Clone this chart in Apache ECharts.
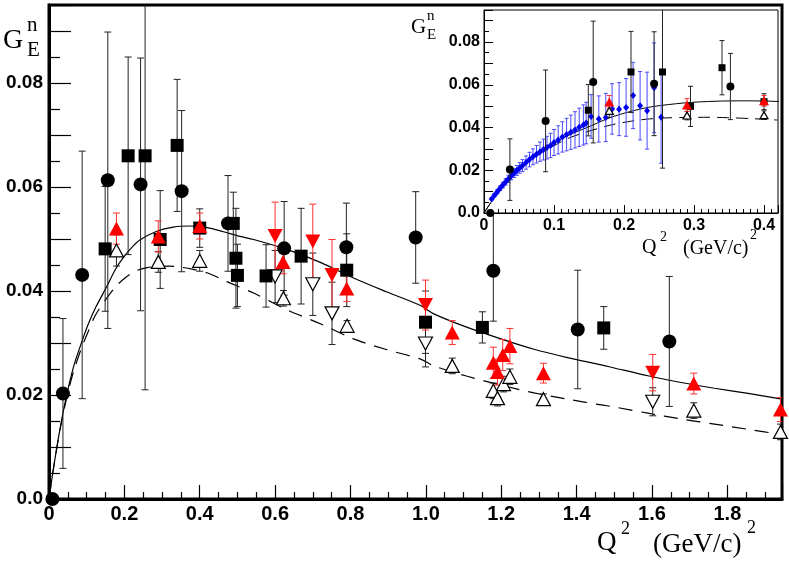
<!DOCTYPE html>
<html><head><meta charset="utf-8">
<script src="https://cdn.jsdelivr.net/npm/echarts@6/dist/echarts.min.js"></script>
<style>html,body{margin:0;padding:0;background:#fff}#c{width:789px;height:569px}</style>
</head><body><div id="c"></div>
<script>
// ---- data ----
// black filled circles
const circQ2  = [0.009, 0.037, 0.088, 0.156, 0.243, 0.352, 0.475, 0.624, 0.789, 0.973, 1.179, 1.403, 1.646];
const circGE  = [0.0,   0.0203,0.0431,0.0613,0.0605,0.0592,0.0530,0.0482,0.0484,0.0503,0.0439,0.0326,0.0303];
const circLo  = [0,     0.0144,0.0238,0.0285,0.0243,0.0155,0.0092,0.0090,0.0085,0.0088,0.0097,0.0114,0.0125];
const circHi  = [0,     0.0144,0.0238,0.0285,0.0243,0.0155,0.0092,0.0090,0.0085,0.0088,0.0120,0.0114,0.0125];
// black filled squares
const sqQ2  = [0.149, 0.210, 0.255, 0.295, 0.340, 0.400, 0.489, 0.496, 0.500, 0.576, 0.669, 0.790, 0.999, 1.150, 1.472];
const sqGE  = [0.0481,0.0660,0.0660,0.0499,0.0680,0.0521,0.0530,0.0463,0.0430,0.0429,0.0467,0.0440,0.0340,0.0330,0.0329];
const sqErr = [0.0120,0.0190,0.0450,0.0094,0.0127,0.0037,0.0060,0.0096,0.0060,0.0060,0.0092,0.0070,0.0060,0.0030,0.0041];
// red filled up-triangles
const rUpQ2  = [0.179, 0.290, 0.400, 0.621, 0.790, 1.070, 1.179, 1.190, 1.204, 1.223, 1.312, 1.711, 1.941];
const rUpGE  = [0.0520,0.0505,0.0525,0.0456,0.0405,0.0320,0.0262,0.0244,0.0277,0.0294,0.0242,0.0222,0.0172];
const rUpErr = [0.0030,0.0030,0.0025,0.0023,0.0025,0.0023,0.0030,0.0025,0.0030,0.0034,0.0019,0.0020,0.0023];
// red filled down-triangles
const rDnQ2  = [0.600, 0.700, 0.751, 0.999, 1.602];
const rDnGE  = [0.0506,0.0495,0.0431,0.0373,0.0243];
const rDnErr = [0.0065,0.0072,0.0068,0.0048,0.0035];
// open up-triangles
const oUpQ2  = [0.179, 0.290, 0.400, 0.622, 0.791, 1.070, 1.179, 1.190, 1.206, 1.223, 1.312, 1.711, 1.941];
const oUpGE  = [0.0478,0.0456,0.0458,0.0386,0.0333,0.0256,0.0208,0.0194,0.0221,0.0235,0.0192,0.0170,0.0129];
const oUpErr = [0.0030,0.0020,0.0020,0.0015,0.0010,0.0015,0.0015,0.0015,0.0015,0.0015,0.0010,0.0015,0.0015];
// open down-triangles
const oDnQ2  = [0.600, 0.700, 0.751, 0.999, 1.602];
const oDnGE  = [0.0428,0.0413,0.0357,0.0299,0.0187];
const oDnErr = [0.0050,0.0060,0.0060,0.0045,0.0027];
// blue points (inset only)
const blueQ2 = [0.011,0.015,0.019,0.023,0.027,0.031,0.035,0.039,0.043,0.047,0.051,0.055,0.060,0.065,0.070,0.075,0.080,0.085,0.090,0.095,0.100,0.106,0.112,0.118,0.124,0.130,0.136,0.142,0.146,
                0.153,0.164,0.174,0.183,0.193,0.203,0.213,0.223,0.233,0.243,0.253];
const blueGE = [0.0066,0.0083,0.0100,0.0116,0.0131,0.0146,0.0160,0.0174,0.0187,0.0199,0.0211,0.0222,0.0236,0.0250,0.0263,0.0275,0.0287,0.0297,0.0306,0.0316,0.0330,0.0342,0.0356,0.0367,0.0378,0.0389,0.0401,0.0412,0.0421,
                0.0452,0.0440,0.0447,0.0487,0.0486,0.0494,0.0550,0.0502,0.0479,0.0586,0.0448];
const blueErr= [0.0006,0.0008,0.0010,0.0011,0.0013,0.0015,0.0017,0.0019,0.0021,0.0023,0.0025,0.0028,0.0031,0.0034,0.0037,0.0041,0.0045,0.0049,0.0053,0.0057,0.0061,0.0066,0.0071,0.0076,0.0080,0.0085,0.0090,0.0094,0.0097,
                0.0102,0.0108,0.0113,0.0118,0.0124,0.0135,0.0155,0.0160,0.0180,0.0210,0.0215];
// curves
const solidQ2 = [0,0.01,0.02,0.03,0.04,0.05,0.06,0.07,0.086,0.104,0.125,0.153,0.175,0.197,0.22,0.241,0.286,0.33,0.374,0.42,0.463,0.507,0.543,0.631,0.72,0.808,0.897,0.986,1.021,1.11,1.199,1.287,1.376,1.465,1.5,1.589,1.677,1.766,1.855,1.945];
const solidGE = [0,0.0050,0.0096,0.0138,0.0176,0.0210,0.0240,0.0266,0.0300,0.0336,0.0370,0.0408,0.0440,0.0464,0.0484,0.0498,0.0515,0.0523,0.0525,0.0522,0.0514,0.0505,0.0499,0.0480,0.0455,0.0425,0.0398,0.0372,0.0356,0.0330,0.0308,0.0288,0.0272,0.0258,0.0252,0.0237,0.0224,0.0213,0.0203,0.0192];
const dashQ2 = [0,0.01,0.02,0.03,0.04,0.05,0.06,0.07,0.086,0.104,0.122,0.15,0.179,0.205,0.232,0.26,0.286,0.32,0.348,0.38,0.419,0.472,0.543,0.631,0.72,0.808,0.897,0.986,1.021,1.11,1.199,1.287,1.376,1.465,1.5,1.589,1.677,1.766,1.855,1.945];
const dashGE = [0,0.0050,0.0095,0.0136,0.0172,0.0204,0.0232,0.0256,0.0290,0.0322,0.0352,0.0383,0.0410,0.0427,0.0439,0.0445,0.0447,0.0448,0.0446,0.0442,0.0435,0.0418,0.0396,0.0364,0.0337,0.0308,0.0287,0.0269,0.0256,0.0236,0.0219,0.0204,0.0192,0.0181,0.0177,0.0165,0.0154,0.0144,0.0134,0.0124];

// ---- helpers ----
const INSET_MAX = 0.42;
function pts(q, g, lo, hi, maxQ) {
  const out = [];
  for (let i = 0; i < q.length; i++) if (q[i] <= maxQ) out.push([q[i], g[i], lo[i], hi[i]]);
  return out;
}
function xy(q, g, maxQ) { const o=[]; for (let i=0;i<q.length;i++) if (q[i] <= maxQ + 0.05) o.push([q[i], g[i]]); return o; }
function errSeries(data, color, cap, ax, lw, z) {
  return {
    type: 'custom', xAxisIndex: ax, yAxisIndex: ax, data: data, z: z, clip: true, silent: true,
    encode: { x: 0, y: 1 },
    renderItem: function (params, api) {
      const x = api.value(0), y = api.value(1), lo = api.value(2), hi = api.value(3);
      if (!lo && !hi) return null;
      const t = api.coord([x, y + hi]), b = api.coord([x, y - lo]);
      const st = { stroke: color, lineWidth: lw };
      return { type: 'group', children: [
        { type: 'line', shape: { x1: t[0], y1: t[1], x2: b[0], y2: b[1] }, style: st },
        { type: 'line', shape: { x1: t[0] - cap, y1: t[1], x2: t[0] + cap, y2: t[1] }, style: st },
        { type: 'line', shape: { x1: b[0] - cap, y1: b[1], x2: b[0] + cap, y2: b[1] }, style: st }
      ]};
    }
  };
}
function scat(data, symbol, size, color, border, rot, ax, z) {
  return {
    type: 'scatter', xAxisIndex: ax, yAxisIndex: ax, data: data, z: z, clip: false, silent: true,
    symbol: symbol, symbolSize: size, symbolRotate: rot,
    itemStyle: { color: color, borderColor: border || color, borderWidth: border ? 1.2 : 0, opacity: 1 },
    encode: { x: 0, y: 1 }
  };
}
function groups(ax, maxQ, z, s) {
  const circ = pts(circQ2, circGE, circLo, circHi, maxQ);
  const sq = pts(sqQ2, sqGE, sqErr, sqErr, maxQ);
  const rUp = pts(rUpQ2, rUpGE, rUpErr, rUpErr, maxQ);
  const rDn = pts(rDnQ2, rDnGE, rDnErr, rDnErr, maxQ);
  const oUp = pts(oUpQ2, oUpGE, oUpErr, oUpErr, maxQ);
  const oDn = pts(oDnQ2, oDnGE, oDnErr, oDnErr, maxQ);
  const cap = s.cap, blk = '#222', red = '#ff3030';
  return [
    errSeries(oUp, blk, cap, ax, 1, z), errSeries(oDn, blk, cap, ax, 1, z),
    errSeries(circ, blk, cap, ax, 1, z), errSeries(sq, blk, cap, ax, 1, z),
    errSeries(rUp, red, cap, ax, 1, z), errSeries(rDn, red, cap, ax, 1, z),
    scat(oUp, 'triangle', s.tri, '#fff', '#000', 0, ax, z + 1),
    scat(oDn, 'triangle', s.tri, '#fff', '#000', 180, ax, z + 1),
    scat(circ, 'circle', s.circ, '#000', null, 0, ax, z + 1),
    scat(sq, 'rect', s.sq, '#000', null, 0, ax, z + 1),
    scat(rUp, 'triangle', s.rtri, '#ff0000', null, 0, ax, z + 2),
    scat(rDn, 'triangle', s.rtri, '#ff0000', null, 180, ax, z + 2)
  ];
}
function curve(q, g, ax, dash, lw, z, maxQ) {
  const ls = { color: '#000', width: lw, type: dash ? 'dashed' : 'solid' };
  if (dash) { ls.type = dash; ls.dashOffset = 0; }
  return { type: 'line', xAxisIndex: ax, yAxisIndex: ax, data: xy(q, g, maxQ), showSymbol: false, symbol: 'none',
    smooth: 0.3, clip: true, silent: true, z: z, lineStyle: ls };
}

const lblFont = { fontFamily: 'Liberation Sans', fontWeight: 'bold', color: '#000' };
function yFmt(v) { const k = Math.round(v * 1000); if (Math.abs(v * 1000 - k) > 1e-6 || k % 20 !== 0) return ''; return k === 0 ? '0.0' : v.toFixed(2); }
function xFmtMain(v) { const k = Math.round(v * 100); if (Math.abs(v * 100 - k) > 1e-6 || k % 20 !== 0) return ''; return k === 0 ? '0' : v.toFixed(1); }
function xFmtIn(v) { const k = Math.round(v * 100); if (Math.abs(v * 100 - k) > 1e-6 || k % 10 !== 0) return ''; return k === 0 ? '0' : v.toFixed(1); }

const serif = '"Liberation Serif", "DejaVu Serif", serif';
function txt(x, y, s, size) {
  return { type: 'text', x: x, y: y, z: 50, silent: true,
    style: { text: s, font: size + 'px ' + serif, fill: '#000', verticalAlign: 'middle', align: 'left' } };
}

const chart = echarts.init(document.getElementById('c'), null, { renderer: 'canvas' });
const option = {
  animation: false,
  backgroundColor: '#fff',
  grid: [
    { left: 49, top: 5, width: 733, height: 494, show: true, borderColor: '#000', borderWidth: 3, backgroundColor: 'transparent', containLabel: false, outerBoundsMode: 'none', z: 0 },
    { left: 484, top: 10, width: 294, height: 203, show: true, borderColor: '#000', borderWidth: 1, backgroundColor: '#fff', containLabel: false, outerBoundsMode: 'none', z: 5 }
  ],
  xAxis: [
    { type: 'value', gridIndex: 0, min: 0, max: 1.945, interval: 0.2, z: 1,
      axisLine: { show: true, onZero: false, lineStyle: { color: '#000', width: 3 } },
      axisTick: { show: true, inside: true, length: 14, lineStyle: { color: '#000', width: 1.2 } },
      minorTick: { show: true, splitNumber: 4, length: 7, lineStyle: { color: '#000', width: 1.2 } },
      splitLine: { show: false }, minorSplitLine: { show: false },
      axisLabel: Object.assign({ fontSize: 20, margin: 5, formatter: xFmtMain, showMaxLabel: false }, lblFont) },
    { type: 'value', gridIndex: 1, min: 0, max: INSET_MAX, interval: 0.1, z: 10,
      axisLine: { show: true, onZero: false, lineStyle: { color: '#000', width: 1 } },
      axisTick: { show: true, inside: true, length: 8, lineStyle: { color: '#000', width: 1 } },
      minorTick: { show: true, splitNumber: 10, length: 4, lineStyle: { color: '#000', width: 1 } },
      splitLine: { show: false }, minorSplitLine: { show: false },
      axisLabel: Object.assign({ fontSize: 16, margin: 5, formatter: xFmtIn, showMaxLabel: false }, lblFont) }
  ],
  yAxis: [
    { type: 'value', gridIndex: 0, min: 0, max: 0.095, interval: 0.01, z: 1,
      axisLine: { show: true, onZero: false, lineStyle: { color: '#000', width: 3 } },
      axisTick: { show: true, inside: true, length: 22, lineStyle: { color: '#000', width: 1.2 } },
      minorTick: { show: true, splitNumber: 2, length: 11, lineStyle: { color: '#000', width: 1.2 } },
      splitLine: { show: false }, minorSplitLine: { show: false },
      axisLabel: Object.assign({ fontSize: 19, margin: 6, formatter: yFmt, showMaxLabel: false }, lblFont) },
    { type: 'value', gridIndex: 1, min: 0, max: 0.095, interval: 0.01, z: 10,
      axisLine: { show: true, onZero: false, lineStyle: { color: '#000', width: 1 } },
      axisTick: { show: true, inside: true, length: 9, lineStyle: { color: '#000', width: 1 } },
      minorTick: { show: true, splitNumber: 2, length: 5, lineStyle: { color: '#000', width: 1 } },
      splitLine: { show: false }, minorSplitLine: { show: false },
      axisLabel: Object.assign({ fontSize: 16, margin: 4, formatter: yFmt, showMaxLabel: false }, lblFont) }
  ],
  graphic: [
    txt(3, 41, 'G', 28), txt(27, 25, 'n', 21), txt(27, 50, 'E', 21),
    txt(597, 543, 'Q', 27), txt(621, 529, '2', 18), txt(653, 545, '(GeV/c)', 27), txt(747, 528, '2', 18),
    txt(411, 27, 'G', 21), txt(427, 16, 'n', 15), txt(427, 35, 'E', 15),
    txt(642, 248, 'Q', 20), txt(660, 237, '2', 14), txt(683, 249, '(GeV/c)', 20), txt(750, 235, '2', 14)
  ],
  series: [].concat(
    [curve(solidQ2, solidGE, 0, null, 1.2, 2, 2), curve(dashQ2, dashGE, 0, [14, 9], 1.2, 2, 2)],
    groups(0, 2, 3, { cap: 3.5, tri: [14, 13], rtri: [15, 14], circ: 14, sq: 13 }),
    [curve(solidQ2, solidGE, 1, null, 1, 10, INSET_MAX), curve(dashQ2, dashGE, 1, [12, 7], 1, 10, INSET_MAX)],
    [errSeries(pts(blueQ2, blueGE, blueErr, blueErr, INSET_MAX), '#4a4aff', 2, 1, 1, 11),
     scat(pts(blueQ2, blueGE, blueErr, blueErr, INSET_MAX), 'diamond', [6, 7], '#0000f0', null, 0, 1, 12)],
    groups(1, INSET_MAX, 13, { cap: 2.5, tri: [8, 7], rtri: [10, 9], circ: 8, sq: 7 })
  )
};
chart.setOption(option);
</script>
</body></html>
